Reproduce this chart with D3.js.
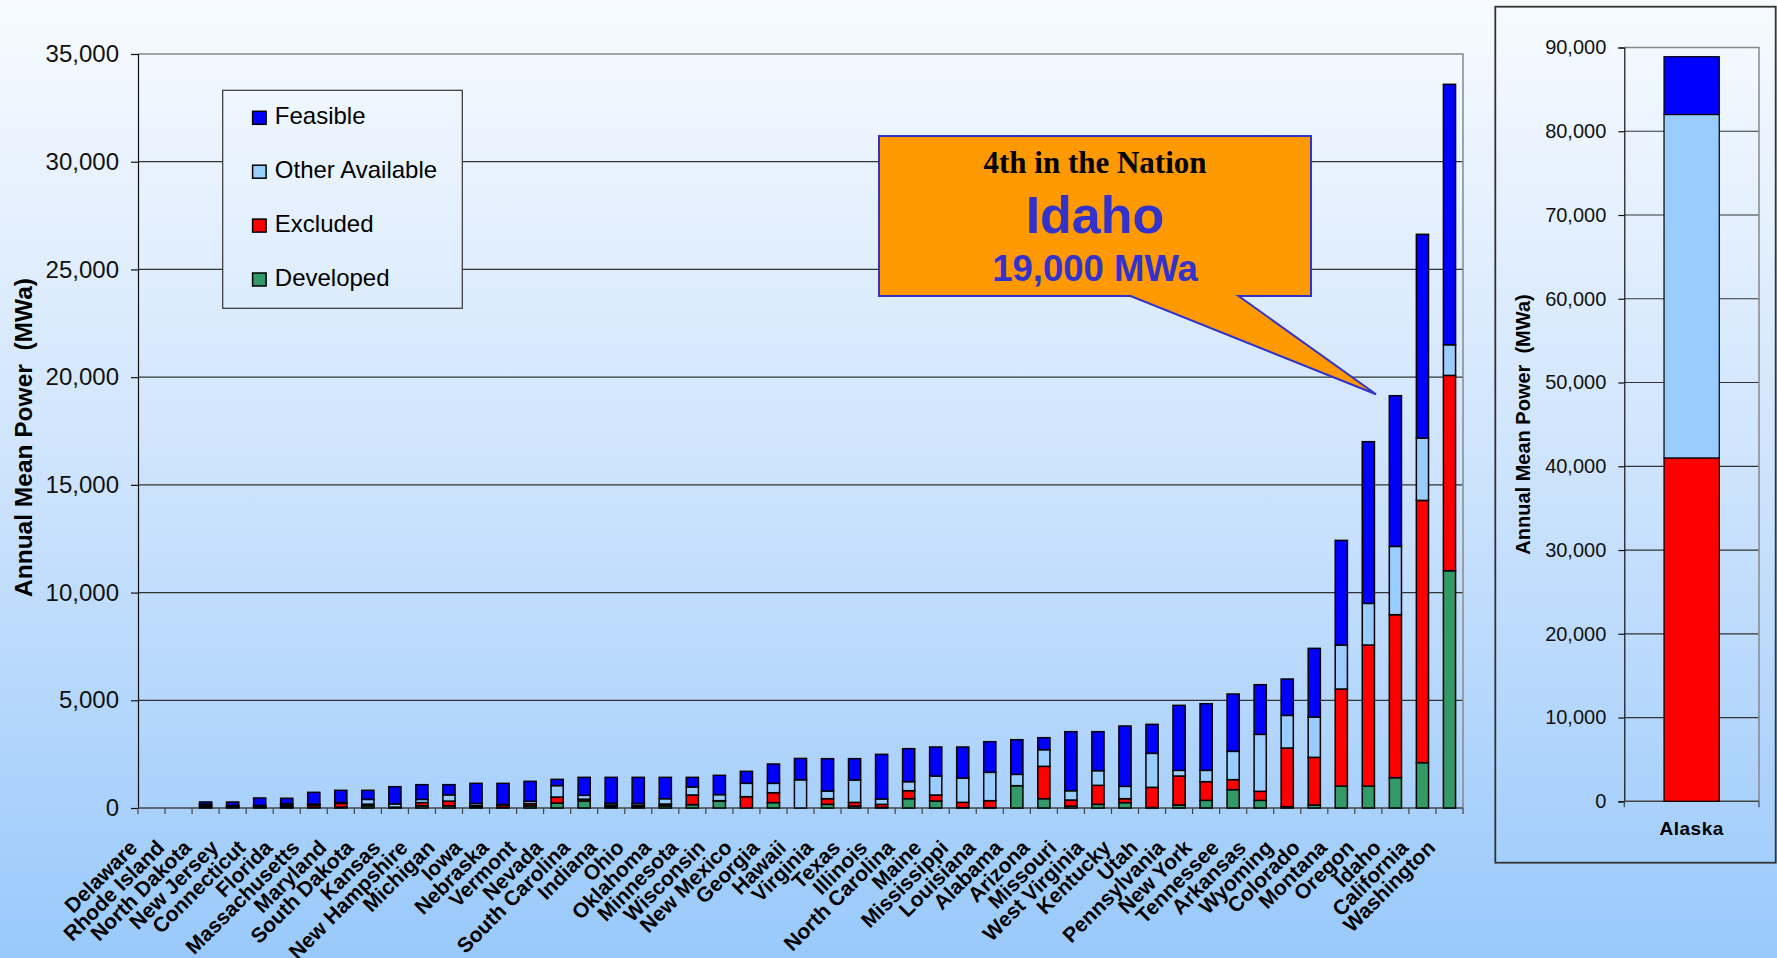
<!DOCTYPE html>
<html><head><meta charset="utf-8">
<script src="https://cdn.jsdelivr.net/npm/d3@7"></script>
<style>body{margin:0;background:#fff;} svg{display:block;}</style>
</head><body>
<script>
// ---------------- DATA ----------------
const states = ["Delaware","Rhode Island","North Dakota","New Jersey","Connecticut","Florida","Massachusetts","Maryland","South Dakota","Kansas","New Hampshire","Michigan","Iowa","Nebraska","Vermont","Nevada","South Carolina","Indiana","Ohio","Oklahoma","Minnesota","Wisconsin","New Mexico","Georgia","Hawaii","Virginia","Texas","Illinois","North Carolina","Maine","Mississippi","Louisiana","Alabama","Arizona","Missouri","West Virginia","Kentucky","Utah","Pennsylvania","New York","Tennessee","Arkansas","Wyoming","Colorado","Montana","Oregon","Idaho","California","Washington"];
const developed      = [0,0,60,40,40,60,40,40,100,20,100,100,50,20,100,230,330,70,60,100,155,320,0,250,0,170,90,30,433,325,20,15,1036,433,90,170,248,20,140,356,851,356,60,140,1021,1021,1408,2104,11015];
const excluded       = [0,0,60,40,40,80,100,175,80,20,150,220,60,100,100,280,80,70,60,86,450,20,526,460,0,263,170,140,371,278,243,325,0,1501,280,882,185,939,1345,866,464,418,2725,2211,4502,6544,7565,12175,9065];
const otherAvailable = [0,0,60,44,44,60,50,45,220,150,150,290,100,50,110,530,180,80,90,247,370,280,620,435,1310,356,1040,250,418,882,1129,1315,526,773,433,681,572,1578,263,526,1315,2645,1515,1872,2042,1934,3171,2893,1423];
const feasible       = [0,0,100,154,340,250,537,560,420,800,683,473,935,975,928,290,833,1203,1213,990,448,896,556,897,990,1500,990,2070,1532,1346,1439,1423,1609,557,2740,1810,2801,1346,3017,3094,2661,2305,1687,3187,4857,7505,6994,9458,12089];
const yTickValues = [0,5000,10000,15000,20000,25000,30000,35000];

const alaskaCategory  = ["Alaska"];
const alaskaDeveloped = [0];
const alaskaExcluded  = [41000];
const alaskaOther     = [41000];
const alaskaFeasible  = [6900];
const alaskaTickValues = [0,10000,20000,30000,40000,50000,60000,70000,80000,90000];

const seriesNames  = ["Developed","Excluded","Other Available","Feasible"];
const seriesColors = ["#339966","#ff0000","#99ccff","#0000ff"];
const legendOrder  = ["Feasible","Other Available","Excluded","Developed"];
const yTitle = "Annual Mean Power  (MWa)";
const calloutLines = ["4th in the Nation","Idaho","19,000 MWa"];

// ---------------- SETUP ----------------
const W = 1777, H = 958;
const SANS = "'Liberation Sans', Arial, sans-serif";
const SERIF = "'Liberation Serif', 'Times New Roman', serif";
const color = d3.scaleOrdinal().domain(seriesNames).range(seriesColors);

const svg = d3.select("body").append("svg").attr("width", W).attr("height", H);
const defs = svg.append("defs");
const grad = defs.append("linearGradient").attr("id","bg")
  .attr("gradientUnits","userSpaceOnUse").attr("x1",0).attr("y1",0).attr("x2",0).attr("y2",H);
grad.append("stop").attr("offset","0%").attr("stop-color","#f7fbff");
grad.append("stop").attr("offset","50%").attr("stop-color","#cde3fd");
grad.append("stop").attr("offset","100%").attr("stop-color","#99c9fb");
svg.append("rect").attr("width",W).attr("height",H).attr("fill","url(#bg)");

// ---------------- MAIN CHART ----------------
const plot = {left:138, right:1463, top:54, bottom:808};
const x = d3.scaleBand().domain(states).range([plot.left, plot.right]).paddingInner(0.55).paddingOuter(0.275);
const y = d3.scaleLinear().domain([0,35000]).range([plot.bottom, plot.top]);

const table = states.map((s,i)=>({state:s, "Developed":developed[i], "Excluded":excluded[i], "Other Available":otherAvailable[i], "Feasible":feasible[i]}));
const stacked = d3.stack().keys(seriesNames)(table);

// gridlines
svg.append("g").selectAll("line").data(yTickValues.filter(v=>v>0 && v<35000)).join("line")
  .attr("x1",plot.left).attr("x2",plot.right).attr("y1",d=>y(d)).attr("y2",d=>y(d))
  .attr("stroke","#333").attr("stroke-width",1.2);
// plot border top/right
svg.append("path").attr("d",`M${plot.left},${y(35000)}H${plot.right}V${plot.bottom}`)
  .attr("fill","none").attr("stroke","#888").attr("stroke-width",1.5);

// y axis
const yAxis = svg.append("g").attr("transform",`translate(${plot.left},0)`)
  .call(d3.axisLeft(y).tickValues(yTickValues).tickFormat(d3.format(",")).tickSize(7).tickPadding(12));
yAxis.select(".domain").attr("stroke","#111").attr("stroke-width",1.2);
yAxis.selectAll(".tick line").attr("stroke","#111").attr("stroke-width",1.2);
yAxis.selectAll("text").attr("font-family",SANS).attr("font-size",24).attr("fill","#111");

// x axis line and boundary ticks
const boundaries = states.map(s => x(s) - (x.step()-x.bandwidth())/2).concat([plot.right]);
svg.append("line").attr("x1",plot.left).attr("x2",plot.right).attr("y1",plot.bottom).attr("y2",plot.bottom)
  .attr("stroke","#444").attr("stroke-width",1.5);
svg.append("g").selectAll("line").data(boundaries).join("line")
  .attr("x1",d=>d).attr("x2",d=>d).attr("y1",plot.bottom).attr("y2",plot.bottom+6)
  .attr("stroke","#444").attr("stroke-width",1.2);

// bars
svg.append("g").selectAll("g").data(stacked).join("g")
  .attr("fill",d=>color(d.key))
  .selectAll("rect").data(d=>d.filter(p=>p[1]-p[0]>0)).join("rect")
  .attr("x",d=>x(d.data.state)).attr("width",x.bandwidth())
  .attr("y",d=>y(d[1])).attr("height",d=>y(d[0])-y(d[1]))
  .attr("stroke","#000").attr("stroke-width",1.5);

// x labels
svg.append("g").selectAll("text").data(states).join("text")
  .attr("transform",d=>`translate(${x(d)+x.bandwidth()/2-13},${849}) rotate(-45)`)
  .attr("text-anchor","end").attr("font-family",SANS).attr("font-weight","bold")
  .attr("font-size",21).attr("fill","#000").text(d=>d);

// y title
svg.append("text").attr("transform","translate(32,437.5) rotate(-90)")
  .attr("text-anchor","middle").attr("font-family",SANS).attr("font-weight","bold")
  .attr("font-size",24.5).style("white-space","pre").attr("fill","#000").text(yTitle);

// legend
const lg = svg.append("g");
lg.append("rect").attr("x",222.7).attr("y",90.3).attr("width",239.6).attr("height",218)
  .attr("fill","url(#bg)").attr("stroke","#333").attr("stroke-width",1.2);
legendOrder.forEach((name,i)=>{
  const base = 124.3 + i*53.9;
  lg.append("rect").attr("x",252.6).attr("y",base-13).attr("width",13.5).attr("height",13)
    .attr("fill",color(name)).attr("stroke","#000").attr("stroke-width",1.5);
  lg.append("text").attr("x",274.8).attr("y",base).attr("font-family",SANS).attr("font-size",24)
    .attr("fill","#000").text(name);
});

// callout
svg.append("path")
  .attr("d","M879,136H1311V296H1238.6L1376,394.3L1130.6,296H879Z")
  .attr("fill","#ff9900").attr("stroke","#3333cc").attr("stroke-width",2).attr("stroke-linejoin","miter");
svg.append("text").attr("x",1095).attr("y",173.3).attr("text-anchor","middle")
  .attr("font-family",SERIF).attr("font-weight","bold").attr("font-size",31).attr("fill","#000").text(calloutLines[0]);
svg.append("text").attr("x",1095).attr("y",233.3).attr("text-anchor","middle")
  .attr("font-family",SANS).attr("font-weight","bold").attr("font-size",52).attr("fill","#3333cc").text(calloutLines[1]);
svg.append("text").attr("x",1095).attr("y",281).attr("text-anchor","middle")
  .attr("font-family",SANS).attr("font-weight","bold").attr("font-size",36.5).attr("fill","#3333cc").text(calloutLines[2]);

// ---------------- ALASKA PANEL ----------------
svg.append("rect").attr("x",1495.3).attr("y",6.7).attr("width",280.4).attr("height",856)
  .attr("fill","none").attr("stroke","#333").attr("stroke-width",1.8);
const ap = {left:1624.3, right:1759, top:47.5, bottom:801.3};
const ax = d3.scaleBand().domain(alaskaCategory).range([ap.left, ap.right]).paddingInner(0.59).paddingOuter(0.295);
const ay = d3.scaleLinear().domain([0,90000]).range([ap.bottom, ap.top]);
const aTable = alaskaCategory.map((c,i)=>({state:c, "Developed":alaskaDeveloped[i], "Excluded":alaskaExcluded[i], "Other Available":alaskaOther[i], "Feasible":alaskaFeasible[i]}));
const aStacked = d3.stack().keys(seriesNames)(aTable);

svg.append("g").selectAll("line").data(alaskaTickValues.filter(v=>v>0 && v<90000)).join("line")
  .attr("x1",ap.left).attr("x2",ap.right).attr("y1",d=>ay(d)).attr("y2",d=>ay(d))
  .attr("stroke","#333").attr("stroke-width",1.2);
svg.append("path").attr("d",`M${ap.left},${ay(90000)}H${ap.right}V${ap.bottom}`)
  .attr("fill","none").attr("stroke","#888").attr("stroke-width",1.5);
const aAxis = svg.append("g").attr("transform",`translate(${ap.left},0)`)
  .call(d3.axisLeft(ay).tickValues(alaskaTickValues).tickFormat(d3.format(",")).tickSize(6).tickPadding(12));
aAxis.select(".domain").attr("stroke","#111").attr("stroke-width",1.2);
aAxis.selectAll(".tick line").attr("stroke","#111").attr("stroke-width",1.2);
aAxis.selectAll("text").attr("font-family",SANS).attr("font-size",20).attr("fill","#111");
svg.append("line").attr("x1",ap.left).attr("x2",ap.right).attr("y1",ap.bottom).attr("y2",ap.bottom)
  .attr("stroke","#444").attr("stroke-width",1.5);
svg.append("g").selectAll("line").data([ap.left, ap.right]).join("line")
  .attr("x1",d=>d).attr("x2",d=>d).attr("y1",ap.bottom).attr("y2",ap.bottom+6)
  .attr("stroke","#444").attr("stroke-width",1.2);

svg.append("g").selectAll("g").data(aStacked).join("g")
  .attr("fill",d=>color(d.key))
  .selectAll("rect").data(d=>d.filter(p=>p[1]-p[0]>0)).join("rect")
  .attr("x",d=>ax(d.data.state)).attr("width",ax.bandwidth())
  .attr("y",d=>ay(d[1])).attr("height",d=>ay(d[0])-ay(d[1]))
  .attr("stroke","#000").attr("stroke-width",1.2);

svg.append("text").attr("x",ax("Alaska")+ax.bandwidth()/2).attr("y",835).attr("text-anchor","middle")
  .attr("font-family",SANS).attr("font-weight","bold").attr("font-size",19).attr("letter-spacing",0.5)
  .attr("fill","#000").text(alaskaCategory[0]);

svg.append("text").attr("transform","translate(1530,424.5) rotate(-90)")
  .attr("text-anchor","middle").attr("font-family",SANS).attr("font-weight","bold")
  .attr("font-size",20).style("white-space","pre").attr("fill","#000").text(yTitle);
</script>
</body></html>
